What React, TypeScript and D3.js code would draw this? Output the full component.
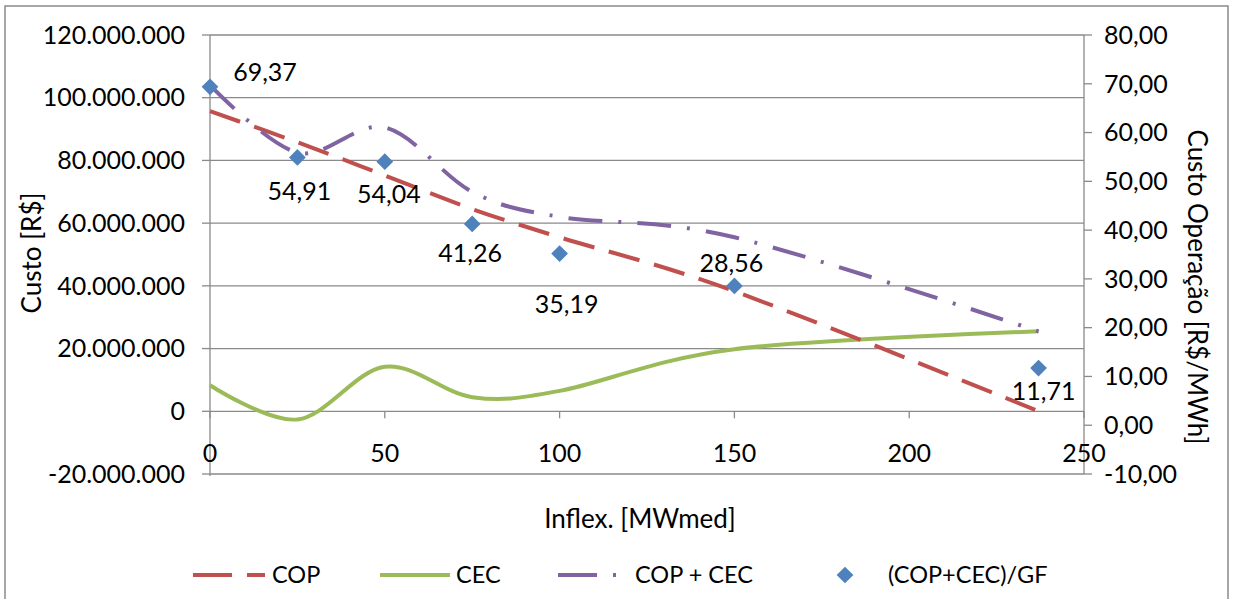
import React from "react";
import * as d3 from "d3";

const inflex = [0, 25, 50, 75, 100, 150, 237];
const cop = [95.7e6, 85.8e6, 75.2e6, 64.5e6, 55.5e6, 38.3e6, 0];
const cec = [8.3e6, -2.6e6, 14.2e6, 4.5e6, 6.5e6, 19.8e6, 25.5e6];
const copCec = [104e6, 82.5e6, 90.5e6, 70e6, 62e6, 55.5e6, 25.5e6];
const gfRatio = [69.37, 54.91, 54.04, 41.26, 35.19, 28.56, 11.71];
const gfLabels = ["69,37", "54,91", "54,04", "41,26", "35,19", "28,56", "11,71"];

const xTicks = [0, 50, 100, 150, 200, 250];
const leftTicks = [-20e6, 0, 20e6, 40e6, 60e6, 80e6, 100e6, 120e6];
const rightTicks = [-10, 0, 10, 20, 30, 40, 50, 60, 70, 80];

const legendNames = ["COP", "CEC", "COP + CEC", "(COP+CEC)/GF"];

// label offsets (layout only)
const labelOffsets: [number, number][] = [
  [55, -15], [2, 34], [4, 33], [-2, 29], [7, 51], [-3, -23], [5, 23],
];

const FONT = "Lato, 'Open Sans', sans-serif";
const RED = "#C0504D";
const GREEN = "#9BBB59";
const PURPLE = "#8064A2";
const BLUE = "#4F81BD";
const GRID = "#8a8a8a";
const TXT = "#000";

const fmtThousands = (v: number) => {
  const s = Math.abs(v).toFixed(0).replace(/\B(?=(\d{3})+(?!\d))/g, ".");
  return (v < 0 ? "-" : "") + s;
};
const fmtDec = (v: number) => v.toFixed(2).replace(".", ",");

export default function App() {
  const W = 1235, H = 599;
  const x = d3.scaleLinear().domain([0, 250]).range([210, 1084]);
  const yL = d3.scaleLinear().domain([-20e6, 120e6]).range([474, 35]);
  const yR = d3.scaleLinear().domain([-10, 80]).range([474, 35]);

  const smooth = d3.curveCatmullRom.alpha(0);
  const lineOf = (vals: number[]) =>
    d3.line<number>().x((_, i) => x(inflex[i])).y((v) => yL(v)).curve(smooth)(vals) || "";

  const diamond = d3.symbol().type(d3.symbolSquare).size(140)() || "";

  const legY = 575;
  const tickFs = 25;
  const titleFs = 26;
  const legFs = 23.5;
  const lblFs = 25;

  return (
    <svg width={W} height={H} style={{ position: "absolute", left: 0, top: 0, background: "#fff" }} fontFamily={FONT}>
      <rect x={5} y={6} width={1223} height={620} fill="#fff" stroke={GRID} strokeWidth={1.5} />

      {/* gridlines */}
      {leftTicks.map((t) => (
        <line key={"g" + t} x1={x(0)} x2={x(250)} y1={yL(t)} y2={yL(t)} stroke={GRID} strokeWidth={1.3} />
      ))}
      {/* left axis */}
      <line x1={x(0)} x2={x(0)} y1={yL(120e6)} y2={yL(-20e6) + 2} stroke={GRID} strokeWidth={1.3} />
      {leftTicks.map((t) => (
        <line key={"lt" + t} x1={x(0) - 8} x2={x(0)} y1={yL(t)} y2={yL(t)} stroke={GRID} strokeWidth={1.3} />
      ))}
      {leftTicks.map((t) => (
        <text key={"ll" + t} x={185} y={yL(t)} dy="0.35em" textAnchor="end" fontSize={tickFs} fill={TXT}>
          {fmtThousands(t)}
        </text>
      ))}
      {/* right axis */}
      <line x1={x(250)} x2={x(250)} y1={yR(80)} y2={yR(-10)} stroke={GRID} strokeWidth={1.3} />
      {rightTicks.map((t) => (
        <line key={"rt" + t} x1={x(250)} x2={x(250) + 8} y1={yR(t)} y2={yR(t)} stroke={GRID} strokeWidth={1.3} />
      ))}
      {rightTicks.map((t) => (
        <text key={"rl" + t} x={1104} y={yR(t)} dy="0.35em" textAnchor="start" fontSize={tickFs} fill={TXT}>
          {fmtDec(t)}
        </text>
      ))}
      {/* x axis ticks on zero line */}
      {xTicks.map((t) => (
        <line key={"xt" + t} x1={x(t)} x2={x(t)} y1={yL(0)} y2={yL(0) + 7} stroke={GRID} strokeWidth={1.3} />
      ))}
      {xTicks.map((t) => (
        <text key={"xl" + t} x={x(t)} y={453} dy="0.35em" textAnchor="middle" fontSize={tickFs} fill={TXT}>
          {t}
        </text>
      ))}

      {/* axis titles */}
      <text transform={`translate(32,253) rotate(-90)`} textAnchor="middle" dy="0.35em" fontSize={titleFs} fill={TXT}>
        Custo [R$]
      </text>
      <text transform={`translate(1197,287) rotate(90)`} textAnchor="middle" dy="0.35em" fontSize={titleFs} fill={TXT}>
        Custo Operação [R$/MWh]
      </text>
      <text x={640} y={519} textAnchor="middle" dy="0.35em" fontSize={titleFs} fill={TXT}>
        Inflex. [MWmed]
      </text>

      {/* series */}
      <path d={lineOf(cec)} fill="none" stroke={GREEN} strokeWidth={4} />
      <path d={lineOf(cop)} fill="none" stroke={RED} strokeWidth={4} strokeDasharray="32,15" />
      <path d={lineOf(copCec)} fill="none" stroke={PURPLE} strokeWidth={4} strokeDasharray="34,16,3,16" />

      {gfRatio.map((v, i) => (
        <path key={"d" + i} d={diamond} transform={`translate(${x(inflex[i])},${yR(v)}) rotate(45)`} fill={BLUE} />
      ))}
      {gfRatio.map((v, i) => (
        <text key={"dl" + i} x={x(inflex[i]) + labelOffsets[i][0]} y={yR(v) + labelOffsets[i][1]} dy="0.35em"
          textAnchor="middle" fontSize={lblFs} fill={TXT}>
          {gfLabels[i]}
        </text>
      ))}

      {/* legend */}
      <line x1={193} x2={265} y1={legY} y2={legY} stroke={RED} strokeWidth={4} strokeDasharray="39,15" />
      <text x={272} y={legY} dy="0.35em" fontSize={legFs} fill={TXT}>{legendNames[0]}</text>
      <line x1={380} x2={450} y1={legY} y2={legY} stroke={GREEN} strokeWidth={4} />
      <text x={456} y={legY} dy="0.35em" fontSize={legFs} fill={TXT}>{legendNames[1]}</text>
      <line x1={558} x2={630} y1={legY} y2={legY} stroke={PURPLE} strokeWidth={4} strokeDasharray="39,16,3,100" />
      <text x={635} y={legY} dy="0.35em" fontSize={legFs} fill={TXT}>{legendNames[2]}</text>
      <path d={diamond} transform={`translate(845,${legY}) rotate(45)`} fill={BLUE} />
      <text x={888} y={legY} dy="0.35em" fontSize={legFs} fill={TXT}>{legendNames[3]}</text>
    </svg>
  );
}
